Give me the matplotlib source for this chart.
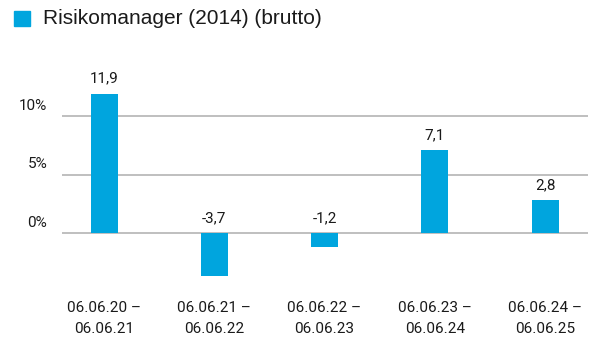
import matplotlib
matplotlib.use("Agg")
import matplotlib.pyplot as plt
from matplotlib.patches import Rectangle
from matplotlib.transforms import blended_transform_factory, offset_copy

# Data
periods = ["06.06.20 –\n06.06.21", "06.06.21 –\n06.06.22", "06.06.22 –\n06.06.23",
           "06.06.23 –\n06.06.24", "06.06.24 –\n06.06.25"]
returns = [11.9, -3.7, -1.2, 7.1, 2.8]
value_labels = ["11,9", "-3,7", "-1,2", "7,1", "2,8"]
yticks = [0, 5, 10]
ytick_labels = ["0%", "5%", "10%"]
series_name = "Risikomanager (2014) (brutto)"

bar_color = "#00a5de"
grid_color = "#b4b4b4"
text_color = "#1a1a1a"
tick_font = "Roboto"
fs = 11

W, H = 599, 340
fig = plt.figure(figsize=(W / 100, H / 100), dpi=100)

ax_left, ax_right = 62, 588
ax_top, ax_bottom = 70, 290
ax = fig.add_axes([ax_left / W, (H - ax_bottom) / H,
                   (ax_right - ax_left) / W, (ax_bottom - ax_top) / H])

x = list(range(len(periods)))
ax.bar(x, returns, width=0.245, color=bar_color, zorder=3)

ax.set_xlim(-0.382, 4.39)
ax.set_ylim(-4.87, 13.93)

# horizontal gridlines
for v in yticks:
    ax.axhline(v, color=grid_color, linewidth=1.2, zorder=1)

for s in ax.spines.values():
    s.set_visible(False)
ax.set_yticks([])
ax.set_xticks(x)
ax.set_xticklabels(periods, fontsize=fs, family=tick_font, color=text_color,
                   linespacing=1.6)
ax.tick_params(axis="x", length=0, pad=8)

# y labels sit just above their gridline
ytrans = blended_transform_factory(ax.transAxes, ax.transData)
for v, lab in zip(yticks, ytick_labels):
    ax.text(-0.028, v, lab, transform=offset_copy(ytrans, fig=fig, x=0, y=3, units="dots"),
            ha="right", va="bottom", fontsize=fs, family=tick_font, color=text_color)

# value labels: above bar tops, negative values above the zero line
for xi, v, lab in zip(x, returns, value_labels):
    base = max(v, 0)
    ax.text(xi, base, lab,
            transform=offset_copy(ax.transData, fig=fig, x=0, y=8, units="dots"),
            ha="center", va="bottom", fontsize=fs, family=tick_font, color=text_color)

# legend entry
fig.patches.append(Rectangle((14 / W, (H - 26) / H), 16 / W, 15 / H,
                             transform=fig.transFigure, color=bar_color))
fig.text(43 / W, (H - 18) / H, series_name, ha="left", va="center",
         fontsize=15, family="Liberation Sans", color=text_color)

fig.savefig("out.png", dpi=100)
